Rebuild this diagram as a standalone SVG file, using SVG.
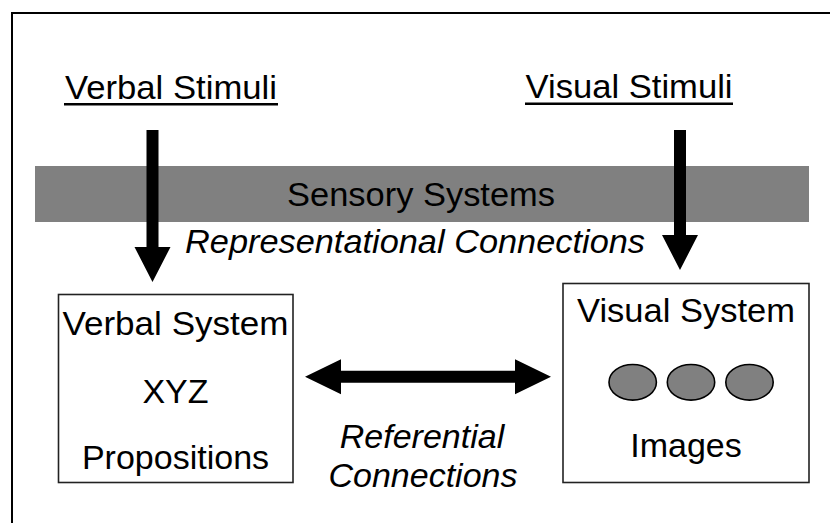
<svg xmlns="http://www.w3.org/2000/svg" width="830" height="523" viewBox="0 0 830 523">
<style>
  text { font-family: "Liberation Sans", Arial, sans-serif; font-size: 34px; fill: #000; text-anchor: middle; }
  .it { font-style: italic; }
  .box { fill: #fff; stroke: #222; stroke-width: 1.6; }
  .arrow { fill: #000; }
  .img { fill: #808080; stroke: #000; stroke-width: 1.6; }
</style>
<rect width="830" height="523" fill="#fff"/>
<rect x="12" y="13" width="840" height="540" fill="none" stroke="#000" stroke-width="2"/>

<g id="verbal-stimuli">
  <text x="171" y="99" textLength="212" lengthAdjust="spacingAndGlyphs">Verbal Stimuli</text>
  <rect x="64" y="103" width="214" height="2.5" fill="#000"/>
</g>
<g id="visual-stimuli">
  <text x="629" y="98" textLength="207" lengthAdjust="spacingAndGlyphs">Visual Stimuli</text>
  <rect x="525" y="102.5" width="208" height="2.5" fill="#000"/>
</g>

<g id="sensory-systems">
  <rect x="35" y="166" width="774" height="56" fill="#808080"/>
  <text x="421" y="206" fill="#1a1a1a" textLength="268" lengthAdjust="spacingAndGlyphs">Sensory Systems</text>
</g>

<g id="connectors">
  <path class="arrow" d="M146.5,130 H158.5 V247 H170.5 L152.5,282 L134.5,247 H146.5 Z"/>
  <path class="arrow" d="M674,130 H686 V235 H698 L680,270 L662,235 H674 Z"/>
  <path class="arrow" d="M305,376.7 L341,359.3 V370.7 H515 V359.3 L551,376.7 L515,394.3 V382.7 H341 V394.3 Z"/>
  <text class="it" x="415" y="253" textLength="460" lengthAdjust="spacingAndGlyphs">Representational Connections</text>
  <text class="it" x="422" y="448">Referential</text>
  <text class="it" x="423" y="487">Connections</text>
</g>

<g id="verbal-system">
  <rect class="box" x="58.5" y="294.5" width="234.5" height="188"/>
  <text x="175.5" y="335" textLength="226" lengthAdjust="spacingAndGlyphs">Verbal System</text>
  <text x="175.5" y="403">XYZ</text>
  <text x="175.5" y="469">Propositions</text>
</g>

<g id="visual-system">
  <rect class="box" x="563" y="283.5" width="246" height="199"/>
  <text x="686" y="322" textLength="218" lengthAdjust="spacingAndGlyphs">Visual System</text>
  <ellipse class="img" cx="632.7" cy="382.3" rx="23.7" ry="17.8"/>
  <ellipse class="img" cx="691" cy="382.3" rx="23.7" ry="17.8"/>
  <ellipse class="img" cx="749.5" cy="382.3" rx="23.7" ry="17.8"/>
  <text x="686" y="457">Images</text>
</g>
</svg>
